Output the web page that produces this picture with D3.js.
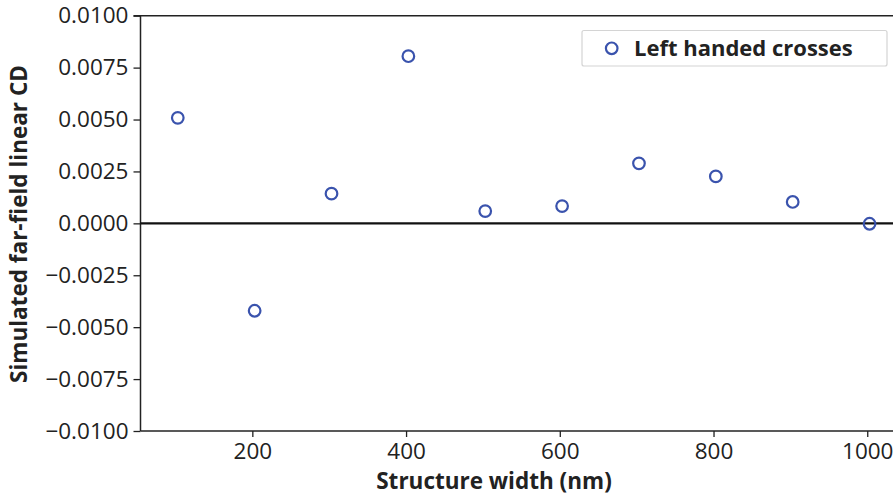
<!DOCTYPE html>
<html><head><meta charset="utf-8">
<script src="https://cdn.jsdelivr.net/npm/d3@7"></script>
<style>
body{margin:0;background:#fff;}
svg{display:block;}
text{font-family:"Open Sans","Noto Sans",sans-serif;fill:#222;}
</style></head>
<body><svg id="c" width="893" height="496"></svg>
<script>
const widths = [103, 203, 303, 403, 503, 603, 703, 803, 903, 1003];
const cdValues = [0.00508, -0.00421, 0.00143, 0.00805, 0.00059, 0.00083, 0.00289, 0.00226, 0.00103, -0.00002];
const xTicks = [200, 400, 600, 800, 1000];
const yTicks = [-0.01, -0.0075, -0.005, -0.0025, 0, 0.0025, 0.005, 0.0075, 0.01];
const seriesName = "Left handed crosses";
const xTitle = "Structure width (nm)";
const yTitle = "Simulated far-field linear CD";

const svg = d3.select("#c");
const L = 140.5, R = 893, T = 15.7, B = 431;
const x = d3.scaleLinear().domain([54.5, 1033.5]).range([L, R]);
const y = d3.scaleLinear().domain([-0.01, 0.01]).range([B, T]);
const fmt = v => (v < 0 ? "\u2212" : "") + Math.abs(v).toFixed(4);
const markColor = "#3a53ad";

const ya = svg.append("g").attr("transform", `translate(${L},0)`)
  .call(d3.axisLeft(y).tickValues(yTicks).tickFormat(fmt).tickSize(7).tickPadding(5));
const xa = svg.append("g").attr("transform", `translate(0,${B})`)
  .call(d3.axisBottom(x).tickValues(xTicks).tickFormat(d3.format("d")).tickSize(6).tickPadding(6));
[ya, xa].forEach(g => {
  g.select(".domain").attr("stroke", "#222").attr("stroke-width", 1.5);
  g.selectAll(".tick line").attr("stroke", "#222").attr("stroke-width", 1.3);
  g.selectAll(".tick text").style("font-size", "22.5px").attr("fill", "#222");
});
ya.select(".domain").attr("d", `M-7,${T}H0V${B}`);
xa.select(".domain").attr("d", `M${L},0H${R}`);
svg.append("line").attr("x1", L).attr("x2", R).attr("y1", T).attr("y2", T)
  .attr("stroke", "#222").attr("stroke-width", 1.5);
svg.append("line").attr("x1", L).attr("x2", R).attr("y1", y(0)).attr("y2", y(0))
  .attr("stroke", "#111").attr("stroke-width", 2.2);

svg.append("g").selectAll("circle").data(widths.map((w, i) => [w, cdValues[i]])).join("circle")
  .attr("cx", d => x(d[0])).attr("cy", d => y(d[1])).attr("r", 5.8)
  .attr("fill", "none").attr("stroke", markColor).attr("stroke-width", 2.2);

svg.append("text").attr("x", 494).attr("y", 489).attr("text-anchor", "middle")
  .style("font-size", "22.5px").style("font-weight", "bold").text(xTitle);
svg.append("text").attr("transform", "translate(27,224) rotate(-90)").attr("text-anchor", "middle")
  .style("font-size", "22.5px").style("font-weight", "bold").text(yTitle);

const lg = svg.append("g");
lg.append("rect").attr("x", 582).attr("y", 30.5).attr("width", 305).attr("height", 35.5)
  .attr("rx", 2).attr("fill", "#fff").attr("stroke", "#d4d4d4").attr("stroke-width", 1.2);
lg.append("circle").attr("cx", 611.7).attr("cy", 48.3).attr("r", 5.8)
  .attr("fill", "none").attr("stroke", markColor).attr("stroke-width", 2.2);
lg.append("text").attr("x", 634).attr("y", 56).style("font-size", "22px").style("font-weight", "bold")
  .text(seriesName);
</script></body></html>
